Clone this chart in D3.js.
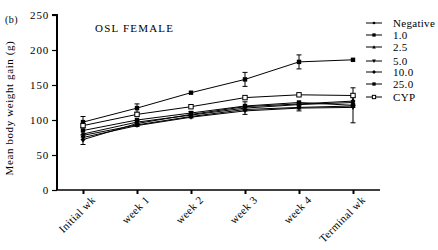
<!DOCTYPE html>
<html>
<head>
<meta charset="utf-8">
<script src="https://cdn.jsdelivr.net/npm/d3@7"></script>
<style>
  body { margin: 0; background: #fff; }
  text { font-family: "Liberation Serif", "DejaVu Serif", serif; fill: #000; }
</style>
</head>
<body>
<div id="chart"></div>
<script>
var weeks = ["Initial wk", "week 1", "week 2", "week 3", "week 4", "Terminal wk"]
var groups = ["Negative", "1.0", "2.5", "5.0", "10.0", "25.0", "CYP"]
var yTicks = [0, 50, 100, 150, 200, 250]

var negative = [80, 97, 107, 117, 122, 125]
var dose1 = [97, 117, 139, 158, 183, 186]
var dose2_5 = [78, 93, 105, 115, 118, 120]
var dose5 = [75, 92, 104, 113, 117, 118]
var dose10 = [72, 95, 108, 119, 123, 127]
var dose25 = [85, 100, 110, 120, 125, 121]
var cyp = [92, 108, 119, 132, 136, 135]

// SD values (only the visible ones are non-zero)
var negativeErr = [0, 0, 0, 0, 0, 0]
var dose1Err = [8, 6, 0, 10, 10, 0]
var dose2_5Err = [0, 0, 0, 0, 0, 0]
var dose5Err = [0, 0, 0, 5, 4, 0]
var dose10Err = [7, 4, 4, 0, 0, 6]
var dose25Err = [0, 0, 0, 6, 0, 25]
var cypErr = [0, 0, 0, 0, 0, 0]

var markers = ["circle", "square", "triangle", "down", "diamond", "square", "open"]

var series = [negative, dose1, dose2_5, dose5, dose10, dose25, cyp].map(function(vals, i) {
  var errs = [negativeErr, dose1Err, dose2_5Err, dose5Err, dose10Err, dose25Err, cypErr][i]
  return { name: groups[i], marker: markers[i], values: vals.map(function(v, j) { return { week: weeks[j], v: v, e: errs[j] } }) }
})

var width = 438, height = 250

var svg = d3.select("#chart").append("svg")
  .attr("width", width)
  .attr("height", height)

var x = d3.scalePoint()
  .domain(weeks)
  .range([83, 353])

var y = d3.scaleLinear()
  .domain([0, 250])
  .range([190, 15])

// y axis
var yAxis = svg.append("g")
  .attr("transform", "translate(57,0)")
  .call(d3.axisLeft(y).tickValues(yTicks).tickSize(5).tickPadding(3))
yAxis.select(".domain").attr("stroke-width", 2).attr("d", "M-5,15H0V190")
yAxis.selectAll(".tick line").attr("stroke-width", 1.2)
yAxis.selectAll("text").style("font-size", "11px").style("letter-spacing", "0.8px").style("font-family", "Liberation Serif")

// x axis
var xAxis = svg.append("g")
  .attr("transform", "translate(0,190)")
  .call(d3.axisBottom(x).tickSize(4).tickPadding(3))
xAxis.select(".domain").attr("d", "M57,0H380").attr("stroke-width", 1.3)
xAxis.selectAll(".tick line").attr("stroke-width", 2)
xAxis.selectAll("text")
  .style("font-size", "11px")
  .style("letter-spacing", "0.4px")
  .style("font-family", "Liberation Serif")
  .attr("text-anchor", "end")
  .attr("transform", "translate(5,3) rotate(-45)")
  .attr("dy", "0.35em")

// title etc
svg.append("text").attr("x", 5).attr("y", 23).style("font-size", "10px").style("letter-spacing", "0.5px").text("(b)")
svg.append("text").attr("x", 95).attr("y", 32).style("font-size", "11px").style("letter-spacing", "1.2px").text("OSL FEMALE")
svg.append("text")
  .attr("transform", "translate(13,108) rotate(-90)")
  .attr("text-anchor", "middle")
  .style("font-size", "11px")
  .style("letter-spacing", "0.6px")
  .text("Mean body weight gain (g)")

function drawMarker(g, type, cx, cy, k) {
  var s = 2.2 * k
  if (type === "circle") g.append("circle").attr("cx", cx).attr("cy", cy).attr("r", 1.8 * k).attr("fill", "#000")
  else if (type === "square") g.append("rect").attr("x", cx - s).attr("y", cy - s).attr("width", 2 * s).attr("height", 2 * s).attr("fill", "#000")
  else if (type === "open") g.append("rect").attr("x", cx - s).attr("y", cy - s).attr("width", 2 * s).attr("height", 2 * s).attr("fill", "#fff").attr("stroke", "#000").attr("stroke-width", 1)
  else if (type === "triangle") g.append("path").attr("d", "M" + cx + "," + (cy - 2.5 * k) + "L" + (cx + 2.5 * k) + "," + (cy + 2 * k) + "L" + (cx - 2.5 * k) + "," + (cy + 2 * k) + "Z").attr("fill", "#000")
  else if (type === "down") g.append("path").attr("d", "M" + cx + "," + (cy + 2.5 * k) + "L" + (cx + 2.5 * k) + "," + (cy - 2 * k) + "L" + (cx - 2.5 * k) + "," + (cy - 2 * k) + "Z").attr("fill", "#000")
  else if (type === "diamond") g.append("path").attr("d", "M" + cx + "," + (cy - 2.8 * k) + "L" + (cx + 2.5 * k) + "," + cy + "L" + cx + "," + (cy + 2.8 * k) + "L" + (cx - 2.5 * k) + "," + cy + "Z").attr("fill", "#000")
}

var line = d3.line()
  .x(function(d) { return x(d.week) })
  .y(function(d) { return y(d.v) })

var plot = svg.append("g")

series.forEach(function(s) {
  var g = plot.append("g")
  g.append("path")
    .attr("d", line(s.values))
    .attr("fill", "none")
    .attr("stroke", "#000")
    .attr("stroke-width", 1)
  s.values.forEach(function(d) {
    if (d.e > 0) {
      var cx = x(d.week)
      g.append("path")
        .attr("d", "M" + cx + "," + y(d.v + d.e) + "V" + y(d.v - d.e) +
          "M" + (cx - 2.5) + "," + y(d.v + d.e) + "H" + (cx + 2.5) +
          "M" + (cx - 2.5) + "," + y(d.v - d.e) + "H" + (cx + 2.5))
        .attr("stroke", "#000")
        .attr("stroke-width", 1)
        .attr("fill", "none")
    }
    drawMarker(g, s.marker, x(d.week), y(d.v), 1)
  })
})

// legend
var legendY = [23, 35, 47, 61, 72, 84, 97]
var legend = svg.append("g")
series.forEach(function(s, i) {
  var ly = legendY[i]
  legend.append("line")
    .attr("x1", 366).attr("x2", 382).attr("y1", ly).attr("y2", ly)
    .attr("stroke", "#000").attr("stroke-width", 1)
  drawMarker(legend, s.marker, 374, ly, 0.75)
  legend.append("text")
    .attr("x", 393).attr("y", ly)
    .attr("dy", "0.35em")
    .style("font-size", "11px")
    .style("letter-spacing", "0.3px")
    .text(s.name)
})
</script>
</body>
</html>
